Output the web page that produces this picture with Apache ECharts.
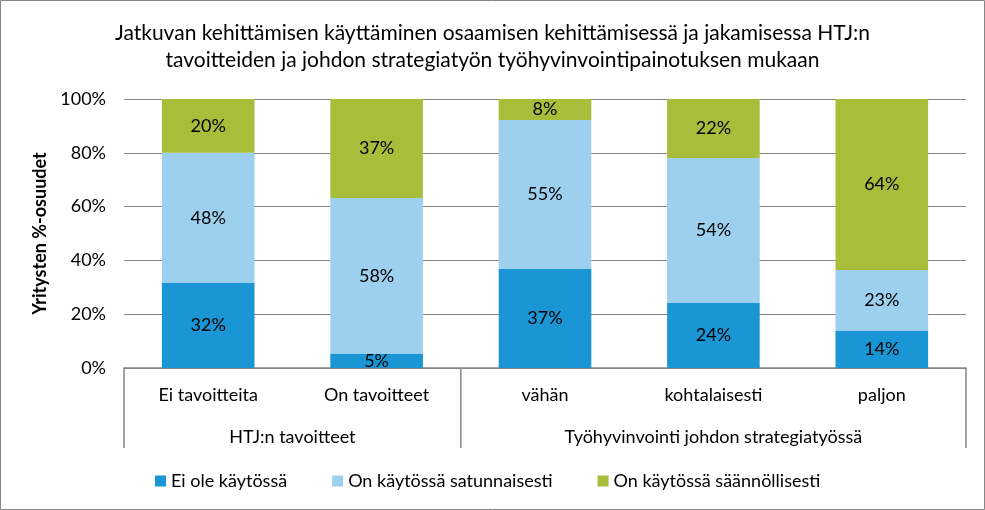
<!DOCTYPE html>
<html>
<head>
<meta charset="utf-8">
<script src="https://cdn.jsdelivr.net/npm/echarts@6/dist/echarts.min.js"></script>
<style>html,body{margin:0;padding:0;background:#fff}#c{width:985px;height:510px}</style>
</head>
<body>
<div id="c"></div>
<script>
const titleText = 'Jatkuvan kehittämisen käyttäminen osaamisen kehittämisessä ja jakamisessa HTJ:n\ntavoitteiden ja johdon strategiatyön työhyvinvointipainotuksen mukaan';
const yAxisName = 'Yritysten %-osuudet';
const categories = ['Ei tavoitteita', 'On tavoitteet', 'vähän', 'kohtalaisesti', 'paljon'];
const groups = ['HTJ:n tavoitteet', 'Työhyvinvointi johdon strategiatyössä'];
const groupSizes = [2, 3];
const seriesNames = ['Ei ole käytössä', 'On käytössä satunnaisesti', 'On käytössä säännöllisesti'];
const eiOle = [31.6, 5.4, 36.8, 24.2, 13.8];
const satunnaisesti = [48.4, 57.8, 55.4, 53.9, 22.6];
const saannollisesti = [20.0, 36.8, 7.8, 21.9, 63.6];
const colors = ['#1A96D4', '#9DCFEF', '#A8BE3A'];

const FONT = 'Lato';
const FS = 18;
const chart = echarts.init(document.getElementById('c'));
const mk = (name, data, color) => ({
  name, type: 'bar', stack: 'a', data, barWidth: '55%',
  itemStyle: { color },
  label: { show: true, position: 'inside', color: '#000', fontSize: FS, fontFamily: FONT,
    formatter: p => Math.round(p.value) + '%' }
});
chart.setOption({
  animation: false,
  textStyle: { fontFamily: FONT },
  title: { text: titleText, left: 'center', top: 15,
    textStyle: { fontSize: 21, fontWeight: 'normal', color: '#000', lineHeight: 27, fontFamily: FONT } },
  grid: { left: 124, right: 19, top: 99, bottom: 142 },
  legend: { bottom: 15, left: 150, itemWidth: 11, itemHeight: 11, itemGap: 45,
    icon: 'rect', textStyle: { fontSize: FS, color: '#000', fontFamily: FONT },
    data: seriesNames },
  xAxis: { type: 'category', data: categories,
    axisLine: { lineStyle: { color: '#868686', width: 1.5 } },
    axisTick: { show: false },
    axisLabel: { color: '#000', fontSize: FS, margin: 18, fontFamily: FONT } },
  yAxis: { type: 'value', min: 0, max: 100, interval: 20,
    name: yAxisName, nameLocation: 'middle', nameGap: 74,
    nameTextStyle: { fontSize: 18, fontWeight: 'bold', color: '#000', fontFamily: FONT },
    axisLine: { show: false }, axisTick: { show: false },
    splitLine: { lineStyle: { color: '#868686', width: 1 } },
    axisLabel: { color: '#000', fontSize: FS, margin: 18, fontFamily: FONT, formatter: v => v + '%' } },
  series: [mk(seriesNames[0], eiOle, colors[0]), mk(seriesNames[1], satunnaisesti, colors[1]), mk(seriesNames[2], saannollisesti, colors[2])]
});

// multi-level axis decorations computed from the axis scale
const x0 = chart.convertToPixel({ xAxisIndex: 0 }, 0);
const x1 = chart.convertToPixel({ xAxisIndex: 0 }, 1);
const band = x1 - x0;
const yBase = chart.convertToPixel({ yAxisIndex: 0 }, 0);
const graphics = [];
let start = 0;
const bounds = [x0 - band / 2];
groupSizes.forEach((n, i) => {
  const left = x0 - band / 2 + start * band;
  const right = left + n * band;
  bounds.push(right);
  graphics.push({ type: 'text', x: (left + right) / 2, y: yBase + 69,
    style: { text: groups[i], fill: '#000', font: FS + 'px ' + FONT, textAlign: 'center', textVerticalAlign: 'middle' } });
  start += n;
});
bounds.forEach(b => {
  graphics.push({ type: 'line', shape: { x1: b, y1: yBase, x2: b, y2: yBase + 80 },
    style: { stroke: '#868686', lineWidth: 1.5 } });
});
graphics.push({ type: 'rect', shape: { x: 0.5, y: 0.5, width: 984, height: 509 },
  style: { fill: 'none', stroke: '#868686', lineWidth: 1 } });
chart.setOption({ graphic: graphics });
</script>
</body>
</html>
